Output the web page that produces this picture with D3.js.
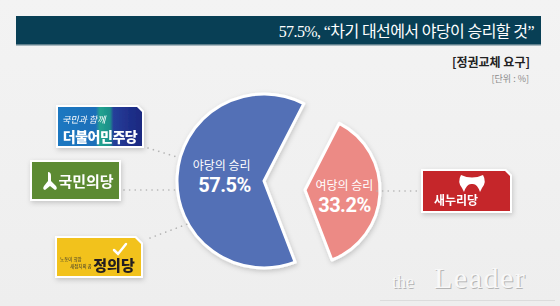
<!DOCTYPE html>
<html>
<head>
<meta charset="utf-8">
<script src="https://cdn.jsdelivr.net/npm/d3@7"></script>
<style>
  html, body { margin: 0; padding: 0; background: #f1f1f1; }
  svg { display: block; }
</style>
</head>
<body>
<svg id="chart" width="560" height="306"></svg>
<script>
const categories = ['야당의 승리', '여당의 승리'];
const values = [57.5, 33.2];
const sliceColors = ['#5370b6', '#ec8a85'];
const oppositionParties = ['더불어민주당', '국민의당', '정의당'];
const rulingParties = ['새누리당'];
const titleText = '57.5%, “차기 대선에서 야당이 승리할 것”';
const subTitle = '[정권교체 요구]';
const unitText = '[단위 : %]';

const W = 560, H = 306;
const svg = d3.select('#chart');
const KR = '"Noto Sans CJK KR", "Noto Sans", sans-serif';

const defs = svg.append('defs');
const bg = defs.append('linearGradient').attr('id', 'bg').attr('x1', 0).attr('y1', 0).attr('x2', 0).attr('y2', 1);
bg.append('stop').attr('offset', 0).attr('stop-color', '#f3f3f3');
bg.append('stop').attr('offset', 1).attr('stop-color', '#eeeeee');
const shadow = defs.append('filter').attr('id', 'shadow').attr('x', '-20%').attr('y', '-20%').attr('width', '140%').attr('height', '140%');
shadow.append('feDropShadow').attr('dx', 1).attr('dy', 2).attr('stdDeviation', 2.5).attr('flood-color', '#000').attr('flood-opacity', 0.18);

svg.append('rect').attr('width', W).attr('height', H).attr('fill', 'url(#bg)');

// title bar
svg.append('rect').attr('x', 16).attr('y', 16).attr('width', 525).attr('height', 29).attr('fill', '#083f55');
svg.append('rect').attr('x', 16).attr('y', 44).attr('width', 525).attr('height', 1.5).attr('fill', '#5f7f8c');
svg.append('text')
  .attr('x', 534).attr('y', 37)
  .attr('text-anchor', 'end')
  .attr('fill', '#ffffff')
  .style('font-family', '"Liberation Serif", "Noto Sans CJK KR", serif')
  .style('font-size', '16px')
  .style('letter-spacing', '-0.6px')
  .text(titleText);

svg.append('text').attr('x', 530).attr('y', 67).attr('text-anchor', 'end')
  .attr('fill', '#222').style('font-family', KR).style('font-weight', 700).style('font-size', '12px')
  .text(subTitle);
svg.append('text').attr('x', 529).attr('y', 82).attr('text-anchor', 'end')
  .attr('fill', '#8a8a8a').style('font-family', KR).style('font-size', '9px')
  .text(unitText);

// pie
const pie = d3.pie().sort(null)
  .startAngle(159 * Math.PI / 180)
  .endAngle(159 * Math.PI / 180 + 2 * Math.PI);
const arcs = pie(values);
const centers = [[264, 181], [305, 190]];
const radii = [87, 75];

const slices = svg.selectAll('.slice').data(arcs).join('g')
  .attr('class', 'slice')
  .attr('transform', (d, i) => `translate(${centers[i][0]},${centers[i][1]})`);

slices.append('path')
  .attr('d', (d, i) => d3.arc().innerRadius(0).outerRadius(radii[i])(d))
  .attr('fill', (d, i) => sliceColors[i])
  .attr('stroke', '#ffffff')
  .attr('stroke-width', 3)
  .attr('stroke-linejoin', 'round')
  .attr('filter', 'url(#shadow)');

slices.each(function(d, i) {
  const c = d3.arc().innerRadius(0).outerRadius(radii[i]).centroid(d);
  const g = d3.select(this);
  const dy = i === 0 ? -9 : -2;
  g.append('text')
    .attr('x', c[0] + (i === 0 ? 1 : 2)).attr('y', c[1] + dy)
    .attr('text-anchor', 'middle').attr('fill', '#fff')
    .style('font-family', KR).style('font-size', '12px')
    .text(categories[i]);
  g.append('text')
    .attr('x', c[0] + (i === 0 ? 4 : 2)).attr('y', c[1] + dy + 22)
    .attr('text-anchor', 'middle').attr('fill', '#fff')
    .style('font-family', 'Roboto, "Open Sans", sans-serif').style('font-weight', 700).style('font-size', '20px')
    .style('letter-spacing', '-0.5px')
    .text(values[i] + '%');
});

// dotted connectors
const dots = [
  [[148, 148], [180, 158]],
  [[124, 190], [178, 190]],
  [[150, 238], [190, 223]],
  [[377, 191], [418, 191]]
];
svg.selectAll('.dots').data(dots).join('line')
  .attr('x1', d => d[0][0]).attr('y1', d => d[0][1])
  .attr('x2', d => d[1][0]).attr('y2', d => d[1][1])
  .attr('stroke', '#b3b3b3').attr('stroke-width', 1.6)
  .attr('stroke-linecap', 'round').attr('stroke-dasharray', '0.1 5.5');

// logo helper: box with clipped top-right corner
function cutBox(x, y, w, h, cut) {
  return `M${x},${y}H${x + w - cut}L${x + w},${y + cut}V${y + h}H${x}Z`;
}

// 더불어민주당
const mg = defs.append('linearGradient').attr('id', 'minjoo');
[[0, '#1d78c1'], [0.45, '#1f6fb9'], [0.5, '#22a38f'], [0.62, '#1c8f8a'], [0.66, '#253f9a'], [0.85, '#1f2f8a'], [1, '#1a2a80']]
  .forEach(s => mg.append('stop').attr('offset', s[0]).attr('stop-color', s[1]));
const l1 = svg.append('g').attr('filter', 'url(#shadow)');
l1.append('path').attr('d', cutBox(56, 105, 88, 43, 6)).attr('fill', '#fff');
l1.append('path').attr('d', cutBox(58, 107, 84, 39, 5)).attr('fill', 'url(#minjoo)');
l1.append('text').attr('x', 62).attr('y', 123).attr('fill', '#fff')
  .style('font-family', KR).style('font-style', 'italic').style('font-size', '9px')
  .text('국민과 함께');
l1.append('text').attr('x', 100).attr('y', 142).attr('text-anchor', 'middle').attr('fill', '#fff')
  .style('font-family', KR).style('font-weight', 900).style('font-size', '14px')
  .style('letter-spacing', '-0.5px')
  .text(oppositionParties[0]);

// 국민의당
const l2 = svg.append('g').attr('filter', 'url(#shadow)');
l2.append('rect').attr('x', 30).attr('y', 160).attr('width', 91).attr('height', 41).attr('fill', '#fff');
l2.append('rect').attr('x', 32).attr('y', 162).attr('width', 87).attr('height', 37).attr('fill', '#5b8a33');
l2.append('path')
  .attr('d', 'M48,172 Q51,172 51,176 L51,181 L56,186 Q58,189 55,190 L50,186 L45,190 Q42,189 44,186 L48,181 L48,176 Q48,172 48,172Z')
  .attr('fill', '#fff');
l2.append('text').attr('x', 86).attr('y', 187).attr('text-anchor', 'middle').attr('fill', '#fff')
  .style('font-family', KR).style('font-weight', 700).style('font-size', '15px')
  .text(oppositionParties[1]);

// 정의당
const l3 = svg.append('g').attr('filter', 'url(#shadow)');
l3.append('path').attr('d', cutBox(55, 236, 88, 42, 7)).attr('fill', '#fff');
l3.append('path').attr('d', cutBox(57, 238, 84, 38, 6)).attr('fill', '#f2c21a');
l3.append('text').attr('x', 60).attr('y', 261).attr('fill', '#333')
  .style('font-family', KR).style('font-size', '4.5px').text('노동이 희망');
l3.append('text').attr('x', 70).attr('y', 268).attr('fill', '#333')
  .style('font-family', KR).style('font-size', '4.5px').text('새정치의 꿈');
l3.append('path').attr('d', 'M114,250 L118,254 L126,244').attr('fill', 'none')
  .attr('stroke', '#fff').attr('stroke-width', 2.5).attr('stroke-linecap', 'round');
l3.append('text').attr('x', 114).attr('y', 271).attr('text-anchor', 'middle').attr('fill', '#231f20')
  .style('font-family', KR).style('font-weight', 900).style('font-size', '15px')
  .text(oppositionParties[2]);

// 새누리당
const l4 = svg.append('g').attr('filter', 'url(#shadow)');
l4.append('path').attr('d', cutBox(421, 169, 91, 44, 6)).attr('fill', '#fff');
l4.append('path').attr('d', cutBox(423, 171, 87, 40, 5)).attr('fill', '#c5262c');
l4.append('path')
  .attr('d', 'M461,175 Q472,180 483,175 Q487,182 482,188 L480,192 Q477,183 472,184 Q467,183 464,192 L462,188 Q457,182 461,175Z')
  .attr('fill', '#fff');
l4.append('text').attr('x', 456).attr('y', 205).attr('text-anchor', 'middle').attr('fill', '#fff')
  .style('font-family', KR).style('font-weight', 700).style('font-size', '12px')
  .text(rulingParties[0]);

// watermark
const wm = svg.append('g').style('font-family', '"Liberation Serif", serif');
[['#b5b5b5', 1], ['#f8f8f8', 0]].forEach(([col, off]) => {
  wm.append('text').attr('x', 392 + off).attr('y', 288 + off).attr('fill', col)
    .style('font-size', '18px').text('the');
  wm.append('text').attr('x', 434 + off).attr('y', 288 + off).attr('fill', col)
    .style('font-size', '30px').style('letter-spacing', '1.5px').text('Leader');
});
svg.append('rect').attr('x', 380).attr('y', 300).attr('width', 175).attr('height', 1).attr('fill', '#dcdcdc');
</script>
</body>
</html>
